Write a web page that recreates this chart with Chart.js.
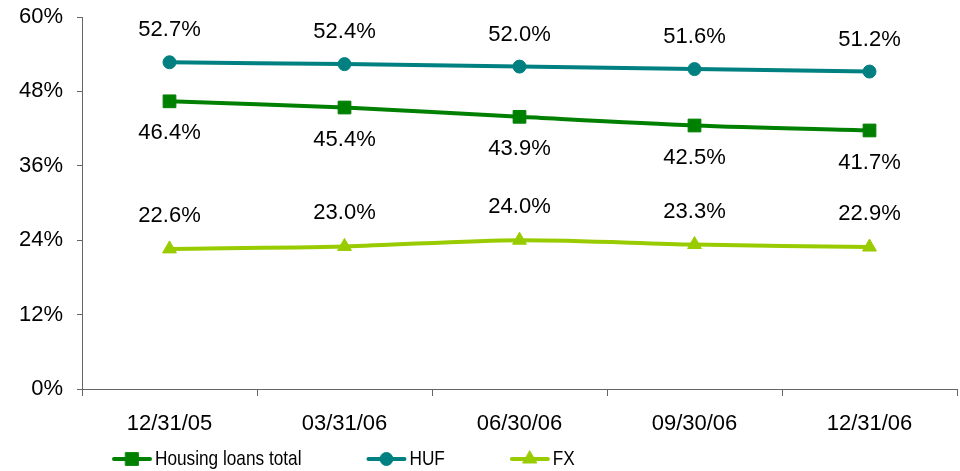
<!DOCTYPE html>
<html>
<head>
<meta charset="utf-8">
<script src="https://cdn.jsdelivr.net/npm/chart.js@4"></script>
<style>
  html, body { margin: 0; padding: 0; background: #fff; }
  #wrap { width: 960px; height: 471px; position: relative; }
</style>
</head>
<body>
<div id="wrap"><canvas id="c" width="960" height="471"></canvas></div>
<script>
// Quarter-end dates
const categories = ['12/31/05', '03/31/06', '06/30/06', '09/30/06', '12/31/06'];
// Shares, in percent
const housingTotal = [46.4, 45.4, 43.9, 42.5, 41.7];
const hufLoans = [52.7, 52.4, 52.0, 51.6, 51.2];
const fxLoans = [22.6, 23.0, 24.0, 23.3, 22.9];
// Value axis
const yMin = 0, yMax = 60, yStep = 12;

const FONT = '"Liberation Sans", Arial, sans-serif';

// Writes each point's value above or below it
const valueLabels = {
  id: 'valueLabels',
  afterDatasetsDraw(chart) {
    const ctx = chart.ctx;
    ctx.save();
    ctx.font = '22px ' + FONT;
    ctx.fillStyle = '#000';
    ctx.textAlign = 'center';
    ctx.textBaseline = 'middle';
    chart.data.datasets.forEach((ds, i) => {
      const meta = chart.getDatasetMeta(i);
      meta.data.forEach((pt, j) => {
        ctx.fillText(ds.data[j].toFixed(1) + '%', pt.x, pt.y + ds.labelOffset);
      });
    });
    ctx.restore();
  }
};

// Legend row: line sample with marker, then the series name in a condensed face
const lineLegend = {
  id: 'lineLegend',
  afterDraw(chart) {
    const ctx = chart.ctx;
    const squeeze = 0.82;
    ctx.save();
    ctx.font = '21px ' + FONT;
    ctx.textBaseline = 'middle';
    let x = 112;
    const y = 459;
    chart.data.datasets.forEach(ds => {
      ctx.strokeStyle = ds.borderColor;
      ctx.fillStyle = ds.borderColor;
      ctx.lineWidth = 4;
      ctx.lineCap = 'round';
      ctx.beginPath();
      ctx.moveTo(x + 2, y);
      ctx.lineTo(x + 38, y);
      ctx.stroke();
      ctx.lineWidth = 1;
      Chart.helpers.drawPoint(ctx, {
        pointStyle: ds.pointStyle,
        radius: ds.pointRadius,
        borderWidth: 1
      }, x + 20, y);
      const tx = x + 43;
      const w = ctx.measureText(ds.label).width * squeeze;
      ctx.save();
      ctx.translate(tx, y);
      ctx.scale(squeeze, 1);
      ctx.fillStyle = '#000';
      ctx.fillText(ds.label, 0, 0);
      ctx.restore();
      x = tx + w + 65;
    });
    ctx.restore();
  }
};

function series(label, data, color, style, radius, offset) {
  return {
    label, data,
    borderColor: color,
    backgroundColor: color,
    borderWidth: 4,
    pointStyle: style,
    pointRadius: radius,
    pointBorderWidth: 1,
    pointBackgroundColor: color,
    pointBorderColor: color,
    tension: 0.3,
    labelOffset: offset
  };
}

new Chart(document.getElementById('c'), {
  type: 'line',
  data: {
    labels: categories,
    datasets: [
      series('Housing loans total', housingTotal, '#008000', 'rect', 9, 32),
      series('HUF', hufLoans, '#008080', 'circle', 6.5, -32),
      series('FX', fxLoans, '#99CC00', 'triangle', 8, -33)
    ]
  },
  options: {
    responsive: false,
    animation: false,
    devicePixelRatio: 1,
    layout: { autoPadding: false, padding: { top: 17, right: 3, left: 0, bottom: 32 } },
    plugins: {
      legend: { display: false },
      tooltip: { enabled: false }
    },
    scales: {
      x: {
        offset: true,
        afterFit(s) { s.height = 50; s.paddingLeft = 0; s.paddingRight = 0; },
        grid: { offset: true, drawOnChartArea: false, drawTicks: true, tickLength: 7, color: '#666', lineWidth: 1 },
        border: { color: '#666', width: 1 },
        ticks: { font: { family: FONT, size: 22 }, color: '#000', padding: 15, maxRotation: 0 }
      },
      y: {
        min: yMin, max: yMax,
        afterFit(s) { s.width = 82; s.paddingTop = 0; s.paddingBottom = 0; },
        grid: { drawOnChartArea: false, drawTicks: true, tickLength: 5, color: '#666' },
        border: { color: '#666', width: 1 },
        ticks: {
          stepSize: yStep,
          font: { family: FONT, size: 22 },
          color: '#000',
          padding: 14,
          callback: v => v + '%'
        }
      }
    }
  },
  plugins: [valueLabels, lineLegend]
});
</script>
</body>
</html>
